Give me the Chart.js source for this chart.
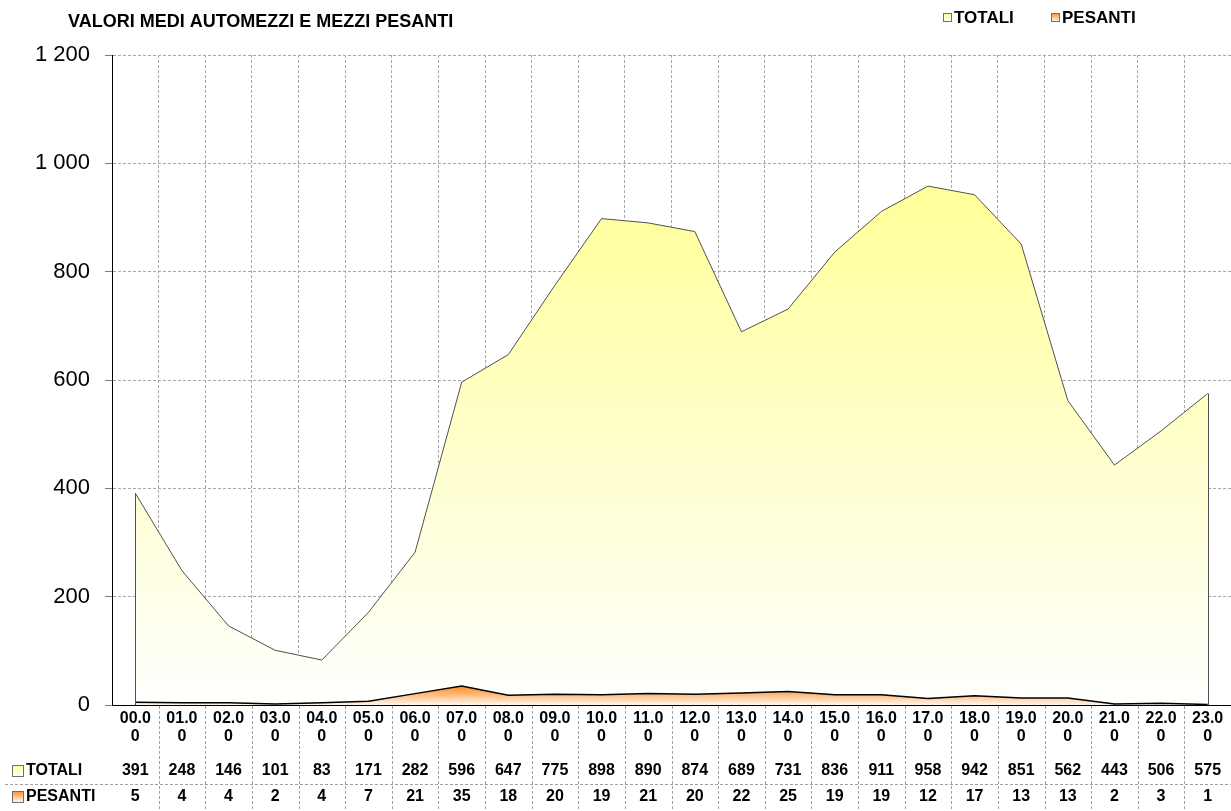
<!DOCTYPE html>
<html>
<head>
<meta charset="utf-8">
<script src="https://cdn.jsdelivr.net/npm/chart.js@4"></script>
<style>
  body { margin: 0; background: #fff; }
  #wrap { width: 1231px; height: 811px; position: relative; }
</style>
</head>
<body>
<div id="wrap"><canvas id="chart"></canvas></div>
<script>
// Data
const hours = ['00.00','01.00','02.00','03.00','04.00','05.00','06.00','07.00','08.00','09.00','10.00','11.00',
               '12.00','13.00','14.00','15.00','16.00','17.00','18.00','19.00','20.00','21.00','22.00','23.00'];
const totali = [391, 248, 146, 101, 83, 171, 282, 596, 647, 775, 898, 890, 874, 689, 731, 836, 911, 958, 942, 851, 562, 443, 506, 575];
const pesanti = [5, 4, 4, 2, 4, 7, 21, 35, 18, 20, 19, 21, 20, 22, 25, 19, 19, 12, 17, 13, 13, 2, 3, 1];
const seriesNames = ['TOTALI', 'PESANTI'];
const yTicks = [0, 200, 400, 600, 800, 1000, 1200];
const title = 'VALORI MEDI AUTOMEZZI E MEZZI PESANTI';

const FONT = 'Arial, "Liberation Sans", sans-serif';
const colors = {
  TOTALI: { top: '#ffff99', bottom: '#ffffff', line: '#505050' },
  PESANTI: { top: '#ff8a1e', bottom: '#fff6ee', line: '#000000' }
};

// gradient from the highest value of a series down to the baseline
function areaGradient(context, values, c) {
  const chart = context.chart;
  if (!chart.chartArea) return c.top;
  const y = chart.scales.y;
  const g = chart.ctx.createLinearGradient(0, y.getPixelForValue(Math.max(...values)), 0, y.getPixelForValue(0));
  g.addColorStop(0, c.top);
  g.addColorStop(1, c.bottom);
  return g;
}

function keyBox(ctx, x, y, size, c) {
  const g = ctx.createLinearGradient(0, y, 0, y + size);
  g.addColorStop(0, c.top);
  g.addColorStop(1, '#ffffff');
  ctx.fillStyle = g;
  ctx.fillRect(x, y, size, size);
  ctx.strokeStyle = '#707070';
  ctx.lineWidth = 1;
  ctx.strokeRect(x + 0.5, y + 0.5, size - 1, size - 1);
}

// title, legend, data table under the axis, side edges of the big area
const extras = {
  id: 'extras',
  afterDatasetsDraw(chart) {
    const { ctx, scales: { x, y } } = chart;
    // left and right edges of the TOTALI area, like Excel draws them
    ctx.save();
    ctx.strokeStyle = colors.TOTALI.line;
    ctx.lineWidth = 1;
    const last = totali.length - 1;
    [[0, totali[0]], [last, totali[last]]].forEach(([i, v]) => {
      const px = Math.round(x.getPixelForValue(i)) + 0.5;
      ctx.beginPath();
      ctx.moveTo(px, y.getPixelForValue(v));
      ctx.lineTo(px, y.getPixelForValue(0));
      ctx.stroke();
    });
    ctx.restore();
  },
  afterDraw(chart) {
    const { ctx, scales: { x } } = chart;
    const area = chart.chartArea;
    ctx.save();

    // title
    ctx.fillStyle = '#000';
    ctx.font = 'bold 18px ' + FONT;
    ctx.textBaseline = 'middle';
    ctx.textAlign = 'left';
    ctx.fillText(title, 68, 22);

    // legend
    ctx.font = 'bold 17px ' + FONT;
    let lx = 943;
    seriesNames.forEach(name => {
      keyBox(ctx, lx, 13, 9, colors[name]);
      ctx.fillStyle = '#000';
      ctx.fillText(name, lx + 11, 18);
      lx += 108;
    });

    // table grid
    const colW = (area.right - area.left) / hours.length;
    const tableTop = area.bottom;
    const tableBottom = chart.height;
    ctx.strokeStyle = '#a0a0a0';
    ctx.lineWidth = 1;
    ctx.setLineDash([3, 2]);
    for (let k = 1; k <= hours.length; k++) {
      const px = Math.round(area.left + k * colW) + 0.5;
      ctx.beginPath();
      ctx.moveTo(px, tableTop + 1);
      ctx.lineTo(px, tableBottom);
      ctx.stroke();
    }
    ctx.beginPath();
    ctx.moveTo(5, 784.5);
    ctx.lineTo(area.right, 784.5);
    ctx.stroke();
    ctx.setLineDash([]);

    // rows
    const rows = [[seriesNames[0], totali, 771], [seriesNames[1], pesanti, 797]];
    rows.forEach(([name, vals, ry]) => {
      keyBox(ctx, 12, ry - 6, 12, colors[name]);
      ctx.fillStyle = '#000';
      ctx.textAlign = 'left';
      ctx.font = 'bold 16px ' + FONT;
      ctx.fillText(name, 26, ry);
      ctx.textAlign = 'center';
      vals.forEach((v, i) => ctx.fillText(String(v), x.getPixelForValue(i), ry));
    });
    ctx.restore();
  }
};

new Chart(document.getElementById('chart'), {
  type: 'line',
  data: {
    labels: hours.map(h => [h.slice(0, 4), h.slice(4)]),
    datasets: [
      {
        label: seriesNames[0],
        data: totali,
        order: 2,
        fill: 'origin',
        tension: 0,
        pointRadius: 0,
        borderColor: colors.TOTALI.line,
        borderWidth: 1,
        backgroundColor: ctx => areaGradient(ctx, totali, colors.TOTALI)
      },
      {
        label: seriesNames[1],
        data: pesanti,
        order: 1,
        fill: 'origin',
        tension: 0,
        pointRadius: 0,
        borderColor: colors.PESANTI.line,
        borderWidth: 1.5,
        backgroundColor: ctx => areaGradient(ctx, pesanti, colors.PESANTI)
      }
    ]
  },
  options: {
    responsive: true,
    maintainAspectRatio: false,
    devicePixelRatio: 1,
    animation: false,
    layout: { padding: { top: 55, left: 0, right: 0, bottom: 0 } },
    plugins: {
      legend: { display: false },
      title: { display: false },
      tooltip: { enabled: false }
    },
    scales: {
      x: {
        type: 'category',
        offset: true,
        grid: { offset: true, color: '#a8a8a8', lineWidth: 1, drawTicks: false },
        border: { display: true, color: '#000', width: 1, dash: [3, 2] },
        ticks: {
          color: '#000',
          font: { family: FONT, size: 16, weight: 'bold', lineHeight: 1.1 },
          padding: 5,
          maxRotation: 0,
          autoSkip: false
        },
        afterFit: s => { s.height = 106; }
      },
      y: {
        min: 0,
        max: 1200,
        afterBuildTicks: s => { s.ticks = yTicks.map(v => ({ value: v })); },
        grid: { color: '#a8a8a8', lineWidth: 1, tickLength: 7, tickColor: '#808080', tickBorderDash: [] },
        border: { display: true, color: '#000', width: 1, dash: [3, 2] },
        ticks: {
          color: '#000',
          font: { family: FONT, size: 22 },
          padding: 15,
          callback: v => String(v).replace(/\B(?=(\d{3})+(?!\d))/g, ' ')
        },
        afterFit: s => { s.width = 112; }
      }
    }
  },
  plugins: [extras]
});
</script>
</body>
</html>
